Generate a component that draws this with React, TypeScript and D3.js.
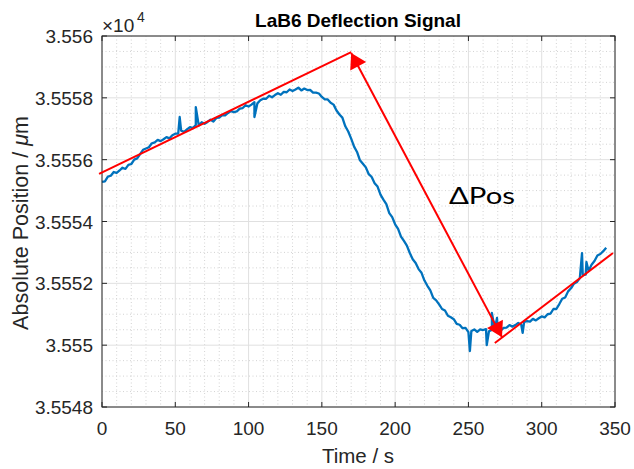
import React from 'react';
import * as d3 from 'd3';

// Absolute position (x10^4 µm), sampled every 2 s from t = 0 s
const positions = [
  3.555528, 3.555530, 3.555545, 3.555548, 3.555560, 3.555557, 3.555565, 3.555574, 3.555570, 3.555583,
  3.555586, 3.555600, 3.555604, 3.555618, 3.555632, 3.555636, 3.555640, 3.555653, 3.555656, 3.555664,
  3.555660, 3.555666, 3.555673, 3.555669, 3.555679, 3.555684, 3.555684, 3.555694, 3.555690, 3.555698,
  3.555705, 3.555702, 3.555712, 3.555711, 3.555721, 3.555716, 3.555722, 3.555729, 3.555723, 3.555735,
  3.555736, 3.555744, 3.555743, 3.555751, 3.555757, 3.555754, 3.555756, 3.555765, 3.555767, 3.555776,
  3.555772, 3.555778, 3.555786, 3.555782, 3.555792, 3.555797, 3.555797, 3.555807, 3.555802, 3.555809,
  3.555815, 3.555810, 3.555819, 3.555818, 3.555827, 3.555822, 3.555827, 3.555833, 3.555824, 3.555830,
  3.555825, 3.555826, 3.555817, 3.555817, 3.555814, 3.555803, 3.555795, 3.555795, 3.555784, 3.555778,
  3.555759, 3.555746, 3.555736, 3.555708, 3.555691, 3.555668, 3.555642, 3.555625, 3.555598, 3.555587,
  3.555575, 3.555553, 3.555544, 3.555524, 3.555513, 3.555487, 3.555471, 3.555456, 3.555427, 3.555414,
  3.555391, 3.555376, 3.555351, 3.555337, 3.555322, 3.555298, 3.555278, 3.555266, 3.555246, 3.555234,
  3.555209, 3.555192, 3.555177, 3.555153, 3.555145, 3.555132, 3.555117, 3.555112, 3.555095, 3.555090,
  3.555084, 3.555069, 3.555066, 3.555055, 3.555056, 3.555042, 3.555046, 3.555051, 3.555043, 3.555051,
  3.555049, 3.555052, 3.555045, 3.555049, 3.555052, 3.555047, 3.555047, 3.555056, 3.555057, 3.555065,
  3.555060, 3.555065, 3.555072, 3.555067, 3.555075, 3.555078, 3.555076, 3.555085, 3.555080, 3.555087,
  3.555093, 3.555090, 3.555100, 3.555102, 3.555117, 3.555117, 3.555133, 3.555150, 3.555154, 3.555174,
  3.555184, 3.555199, 3.555204, 3.555217, 3.555227, 3.555228, 3.555240, 3.555260, 3.555272, 3.555290,
  3.555295, 3.555304, 3.555315,
];
const sampleStep = 2;

// Glitches (spikes) in the signal
const spikeTimes = [53, 64, 104, 251, 262.5, 266, 269.5, 287, 327.5, 330.5];
const spikeValues = [3.555738, 3.55577, 3.555738, 3.554981, 3.555, 3.555104, 3.555088, 3.55504, 3.555298, 3.555269];

const xTicks = [0, 50, 100, 150, 200, 250, 300, 350];
const yTicks = [3.5548, 3.555, 3.5552, 3.5554, 3.5556, 3.5558, 3.556];
const yTickLabels = ['3.5548', '3.555', '3.5552', '3.5554', '3.5556', '3.5558', '3.556'];

// Red annotations (data coordinates)
const fitBefore: [number, number][] = [[-2, 3.555554], [170, 3.555948]];
const fitAfter: [number, number][] = [[268, 3.555007], [348.6, 3.555298]];
const deltaArrow: [number, number][] = [[170, 3.555945], [272.9, 3.555026]];

const W = 634, H = 469;
const L = 102, R = 615, T = 36, B = 407;

const BLUE = '#0072BD';
const RED = '#FF0000';
const AX = '#262626';
const FONT = '"Liberation Sans", Arial, Helvetica, sans-serif';

export default function App() {
  const x = d3.scaleLinear().domain([0, 350]).range([L, R]);
  const y = d3.scaleLinear().domain([3.5548, 3.556]).range([B, T]);

  const pts: [number, number][] = positions.map((v, i) => [i * sampleStep, v]);
  spikeTimes.forEach((t, i) => pts.push([t, spikeValues[i]]));
  pts.sort((a, b) => a[0] - b[0]);

  const line = d3.line<[number, number]>().x(d => x(d[0])).y(d => y(d[1]));

  const xMinor = d3.range(0, 351, 10).filter(v => v % 50 !== 0);
  const yMinor = d3.range(0, 25).map(i => 3.5548 + i * 0.00005).filter((v, i) => i % 4 !== 0);

  const tickLen = 5;

  const arrowHead = (tip: [number, number], from: [number, number]) => {
    const tx = x(tip[0]), ty = y(tip[1]);
    const fx = x(from[0]), fy = y(from[1]);
    const dx = tx - fx, dy = ty - fy;
    const len = Math.hypot(dx, dy);
    const ux = dx / len, uy = dy / len;
    const hl = 15, hw = 9;
    const bx = tx - ux * hl, by = ty - uy * hl;
    const px = -uy, py = ux;
    return `${tx},${ty} ${bx + px * hw},${by + py * hw} ${bx - px * hw},${by - py * hw}`;
  };

  const a0 = deltaArrow[0], a1 = deltaArrow[1];

  return (
    <svg width={W} height={H} style={{ position: 'absolute', left: 0, top: 0, background: '#fff' }}>
      <rect x={0} y={0} width={W} height={H} fill="#fff" />
      {/* minor grid */}
      {xMinor.map(v => (
        <line key={'xm' + v} x1={x(v)} x2={x(v)} y1={T} y2={B} stroke="#c8c8c8" strokeWidth={0.8} strokeDasharray="1,2.5" />
      ))}
      {yMinor.map((v, i) => (
        <line key={'ym' + i} x1={L} x2={R} y1={y(v)} y2={y(v)} stroke="#c8c8c8" strokeWidth={0.8} strokeDasharray="1,2.5" />
      ))}
      {/* major grid */}
      {xTicks.map(v => (
        <line key={'xg' + v} x1={x(v)} x2={x(v)} y1={T} y2={B} stroke="#e0e0e0" strokeWidth={1} />
      ))}
      {yTicks.map(v => (
        <line key={'yg' + v} x1={L} x2={R} y1={y(v)} y2={y(v)} stroke="#e0e0e0" strokeWidth={1} />
      ))}

      {/* data */}
      <path d={line(pts) || ''} fill="none" stroke={BLUE} strokeWidth={2.3} strokeLinejoin="round" />

      {/* box */}
      <rect x={L} y={T} width={R - L} height={B - T} fill="none" stroke={AX} strokeWidth={1} />
      {/* ticks */}
      {xTicks.map(v => (
        <g key={'xt' + v}>
          <line x1={x(v)} x2={x(v)} y1={B} y2={B - tickLen} stroke={AX} />
          <line x1={x(v)} x2={x(v)} y1={T} y2={T + tickLen} stroke={AX} />
          <text x={x(v)} y={435} textAnchor="middle" fontFamily={FONT} fontSize={19} fill={AX}>{v}</text>
        </g>
      ))}
      {yTicks.map((v, i) => (
        <g key={'yt' + v}>
          <line x1={L} x2={L + tickLen} y1={y(v)} y2={y(v)} stroke={AX} />
          <line x1={R} x2={R - tickLen} y1={y(v)} y2={y(v)} stroke={AX} />
          <text x={93} y={y(v) + 7} textAnchor="end" fontFamily={FONT} fontSize={19} fill={AX}>{yTickLabels[i]}</text>
        </g>
      ))}

      {/* exponent */}
      <text x={102} y={32} fontFamily={FONT} fontSize={19} fill={AX}>×10</text>
      <text x={137} y={22} fontFamily={FONT} fontSize={14} fill={AX}>4</text>

      {/* title */}
      <text x={358} y={27} textAnchor="middle" fontFamily={FONT} fontSize={19} fontWeight="bold" fill="#000">LaB6 Deflection Signal</text>

      {/* axis labels */}
      <text x={358} y={463} textAnchor="middle" fontFamily={FONT} fontSize={20.5} fill={AX}>Time / s</text>
      <text transform="translate(28,223) rotate(-90)" textAnchor="middle" fontFamily={FONT} fontSize={21.5} fill={AX}>
        Absolute Position / <tspan fontStyle="italic">μ</tspan>m
      </text>

      {/* red annotations */}
      <line x1={x(fitBefore[0][0])} y1={y(fitBefore[0][1])} x2={x(fitBefore[1][0])} y2={y(fitBefore[1][1])} stroke={RED} strokeWidth={2} />
      <line x1={x(fitAfter[0][0])} y1={y(fitAfter[0][1])} x2={x(fitAfter[1][0])} y2={y(fitAfter[1][1])} stroke={RED} strokeWidth={2} />
      <line x1={x(a0[0])} y1={y(a0[1])} x2={x(a1[0])} y2={y(a1[1])} stroke={RED} strokeWidth={2} />
      <polygon points={arrowHead(a0, a1)} fill={RED} />
      <polygon points={arrowHead(a1, a0)} fill={RED} />

      <text x={449} y={204} fontFamily="Lato, 'Open Sans', sans-serif" fontSize={24} fill="#000" textLength={66} lengthAdjust="spacingAndGlyphs">ΔPos</text>
    </svg>
  );
}
